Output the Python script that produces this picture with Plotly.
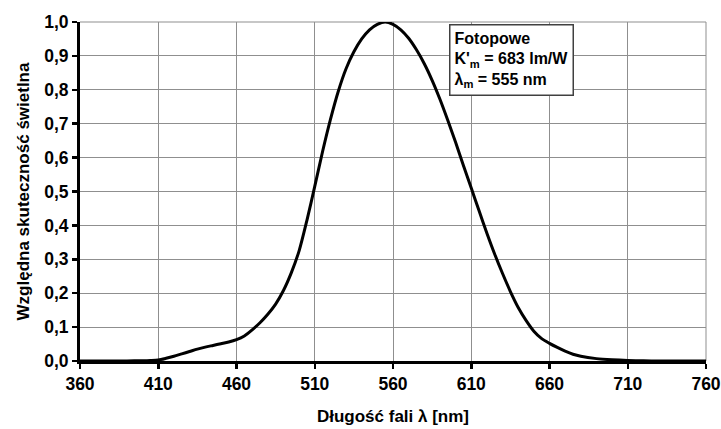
import plotly.graph_objects as go

# Wavelength (nm) and relative luminous efficiency
wavelength = [360, 370, 380, 390, 400, 405, 410, 415, 420, 425, 430, 435, 440, 445, 450,
              455, 460, 465, 470, 475, 480, 485, 490, 495, 500, 505, 510, 515, 520, 525,
              530, 535, 540, 545, 550, 555, 560, 565, 570, 575, 580, 585, 590, 595, 600,
              605, 610, 615, 620, 625, 630, 635, 640, 645, 650, 655, 660, 665, 670, 675,
              680, 690, 700, 710, 720, 730, 740, 750, 760]
efficiency = [0.0, 0.0, 0.0001, 0.0003, 0.0008, 0.0015, 0.003, 0.008, 0.014, 0.021,
              0.028, 0.035, 0.041, 0.046, 0.051, 0.056, 0.063, 0.074, 0.092, 0.113,
              0.138, 0.168, 0.208, 0.26, 0.325, 0.415, 0.515, 0.618, 0.712, 0.795,
              0.862, 0.912, 0.95, 0.977, 0.993, 1.0, 0.993, 0.977, 0.952, 0.918,
              0.877, 0.828, 0.772, 0.71, 0.645, 0.577, 0.51, 0.443, 0.377, 0.315,
              0.258, 0.205, 0.158, 0.12, 0.088, 0.066, 0.052, 0.04, 0.029, 0.02,
              0.014, 0.007, 0.0035, 0.0015, 0.0006, 0.0002, 0.0001, 0.0, 0.0]

x_ticks = [360, 410, 460, 510, 560, 610, 660, 710, 760]
y_ticks = [0.0, 0.1, 0.2, 0.3, 0.4, 0.5, 0.6, 0.7, 0.8, 0.9, 1.0]
y_tick_labels = ["0,0", "0,1", "0,2", "0,3", "0,4", "0,5", "0,6", "0,7", "0,8", "0,9", "1,0"]

font_family = "Liberation Sans, Arial, sans-serif"
grid_color = "#8f8f8f"

fig = go.Figure()
fig.add_trace(go.Scatter(
    x=wavelength, y=efficiency, mode="lines",
    line=dict(color="black", width=3, shape="spline", smoothing=0.8),
    hoverinfo="skip", showlegend=False,
))

fig.update_layout(
    width=721, height=429,
    margin=dict(l=80, r=15, t=22, b=67.5, autoexpand=False),
    paper_bgcolor="white", plot_bgcolor="white",
    font=dict(family=font_family, color="black"),
    xaxis=dict(
        range=[360, 760], tickvals=x_ticks, ticktext=[str(v) for v in x_ticks],
        showgrid=True, gridcolor=grid_color, gridwidth=1,
        showline=True, linecolor="black", linewidth=3,
        ticks="outside", ticklen=5, tickwidth=2.5, tickcolor="black",
        tickfont=dict(size=17.5, family=font_family, weight="bold"),
        ticklabeloverflow="allow", automargin=False,
        title=dict(text="<b>Długość fali λ [nm]</b>", font=dict(size=17), standoff=18),
        zeroline=False, fixedrange=True,
    ),
    yaxis=dict(
        range=[0, 1.0], tickvals=y_ticks, ticktext=y_tick_labels,
        showgrid=True, gridcolor=grid_color, gridwidth=1,
        showline=True, linecolor="black", linewidth=3,
        ticks="outside", ticklen=5, tickwidth=2.5, tickcolor="black",
        tickfont=dict(size=17.5, family=font_family, weight="bold"),
        ticklabeloverflow="allow", automargin=False,
        title=dict(text="<b>Względna skuteczność świetlna</b>", font=dict(size=17), standoff=11),
        zeroline=False, fixedrange=True,
    ),
    shapes=[
        dict(type="line", xref="paper", yref="paper", x0=0, x1=1, y0=1, y1=1,
             line=dict(color=grid_color, width=1), layer="below"),
        dict(type="line", xref="paper", yref="paper", x0=1, x1=1, y0=0, y1=1,
             line=dict(color=grid_color, width=1), layer="below"),
    ],
    annotations=[dict(
        xref="paper", yref="paper", x=0.5895, y=0.994,
        xanchor="left", yanchor="top", align="left",
        text="<b>Fotopowe<br>K'<sub>m</sub> = 683 lm/W<br>λ<sub>m</sub> = 555 nm</b>",
        font=dict(size=16, color="black", family=font_family),
        bgcolor="white", bordercolor="#404040", borderwidth=1.5, borderpad=4,
        showarrow=False,
    )],
)

fig.write_html(
    "out.html",
    config={"displayModeBar": False, "staticPlot": True},
    post_script="document.body.style.margin='0';document.body.style.overflow='hidden';",
)
